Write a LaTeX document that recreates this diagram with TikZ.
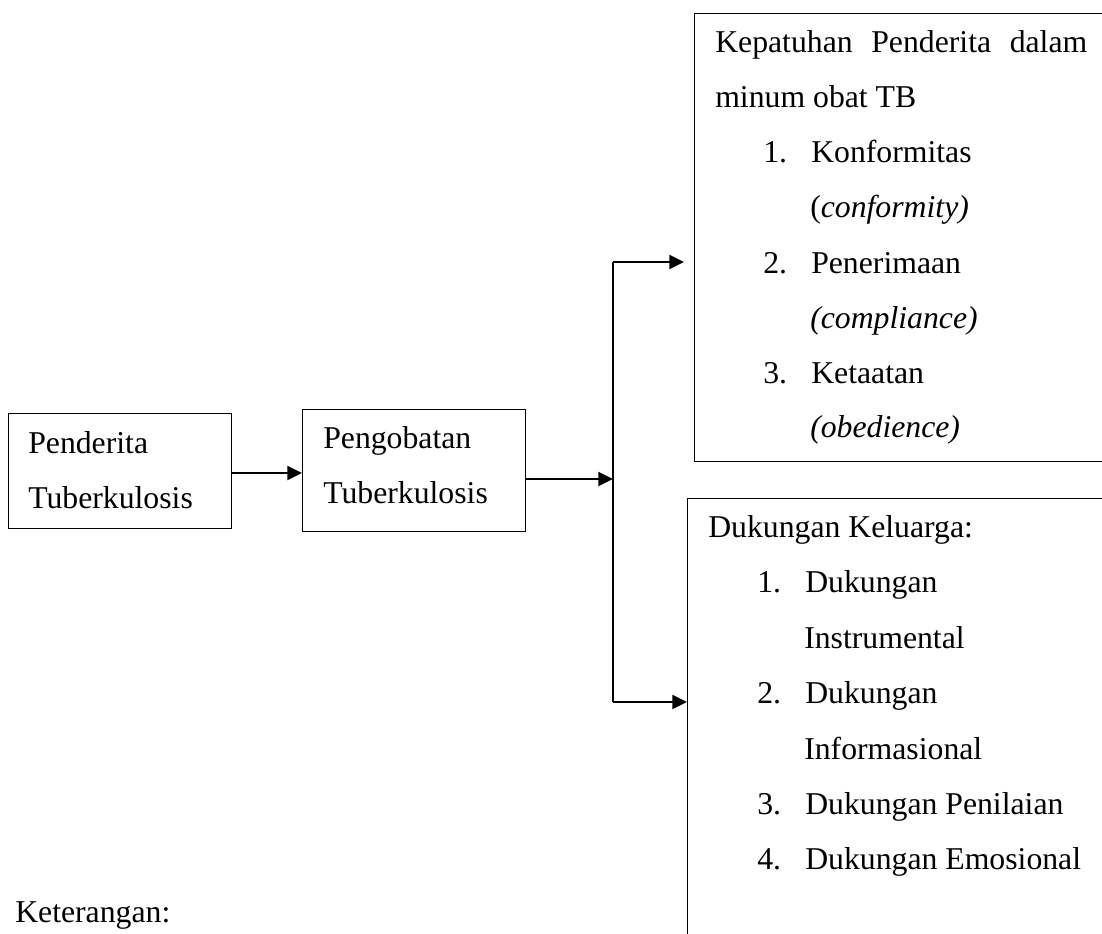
\documentclass[tikz,border=0pt]{standalone}
\usepackage{fontspec}
\setmainfont{Liberation Serif}
\usetikzlibrary{arrows.meta}

\tikzset{
  box/.style={draw, line width=0.8pt, anchor=north west, inner sep=0pt},
  txt/.style={anchor=base west, inner sep=0pt, font=\fontsize{23.8}{28}\selectfont},
  arr/.style={line width=1.5pt, -{Triangle[length=11pt,width=10.5pt]}},
}
\newcommand{\numitem}[2]{\makebox[36pt][l]{#1.}#2}

\begin{document}
\begin{tikzpicture}[x=0.75pt,y=0.75pt,yscale=-1,xscale=1]
\useasboundingbox (0,0) rectangle (1102,933);
\clip (0,0) rectangle (1102,933);

%Shape: Rectangle
\node [box, minimum width=167.25pt, minimum height=86.25pt] (penderita) at (8,413) {};
%Shape: Rectangle
\node [box, minimum width=167.25pt, minimum height=91.5pt] (pengobatan) at (302,409) {};
%Shape: Rectangle
\node [box, minimum width=307.5pt, minimum height=336pt] (kepatuhan) at (694,12.7) {};
%Shape: Rectangle
\node [box, minimum width=312.75pt, minimum height=336pt] (dukungan) at (687,498) {};

%Straight Lines
\coordinate (a1) at (0,473);
\draw [arr] (penderita.east |- a1) -- (pengobatan.west |- a1) ;
%Straight Lines
\coordinate (split) at (613,479);
\draw [arr] (pengobatan.east |- split) -- (split) ;
%Straight Lines
\coordinate (upper) at (613,262);
\coordinate (lower) at (613,702);
\draw [line width=1pt] (upper) -- (lower) ;
\draw [arr, shorten >=7.5pt] (upper) -- (kepatuhan.west |- upper) ;
\draw [arr] (lower) -- (dukungan.west |- lower) ;

% Text Node
\node [txt] (pend1) at (28,453) {Penderita};
% Text Node
\node [txt] (pend2) at (28,508) {Tuberkulosis};
% Text Node
\node [txt] (peng1) at (323,448) {Pengobatan};
% Text Node
\node [txt] (peng2) at (323,503) {Tuberkulosis};

% Text Node
\node [txt] (kep1) at (715,52.5) {\makebox[279pt][s]{Kepatuhan Penderita dalam}};
% Text Node
\node [txt] (kep2) at (715,107) {minum obat TB};
% Text Node
\node [txt] (kep3) at (763,162) {\numitem{1}{Konformitas}};
% Text Node
\node [txt] (kep4) at (810,217) {(\textit{conformity)}};
% Text Node
\node [txt] (kep5) at (763,273) {\numitem{2}{Penerimaan}};
% Text Node
\node [txt] (kep6) at (810,328) {\textit{(compliance)}};
% Text Node
\node [txt] (kep7) at (763,383) {\numitem{3}{Ketaatan}};
% Text Node
\node [txt] (kep8) at (810,437) {\textit{(obedience)}};

% Text Node
\node [txt] (duk1) at (708,537.5) {Dukungan Keluarga:};
% Text Node
\node [txt] (duk2) at (757,592.9) {\numitem{1}{Dukungan}};
% Text Node
\node [txt] (duk3) at (804,648.3) {Instrumental};
% Text Node
\node [txt] (duk4) at (757,703.7) {\numitem{2}{Dukungan}};
% Text Node
\node [txt] (duk5) at (804,759.1) {Informasional};
% Text Node
\node [txt] (duk6) at (757,814.5) {\numitem{3}{Dukungan Penilaian}};
% Text Node
\node [txt] (duk7) at (757,869.9) {\numitem{4}{Dukungan Emosional}};

% Text Node
\node [txt] (ket) at (15,922) {Keterangan:};

\end{tikzpicture}
\end{document}
